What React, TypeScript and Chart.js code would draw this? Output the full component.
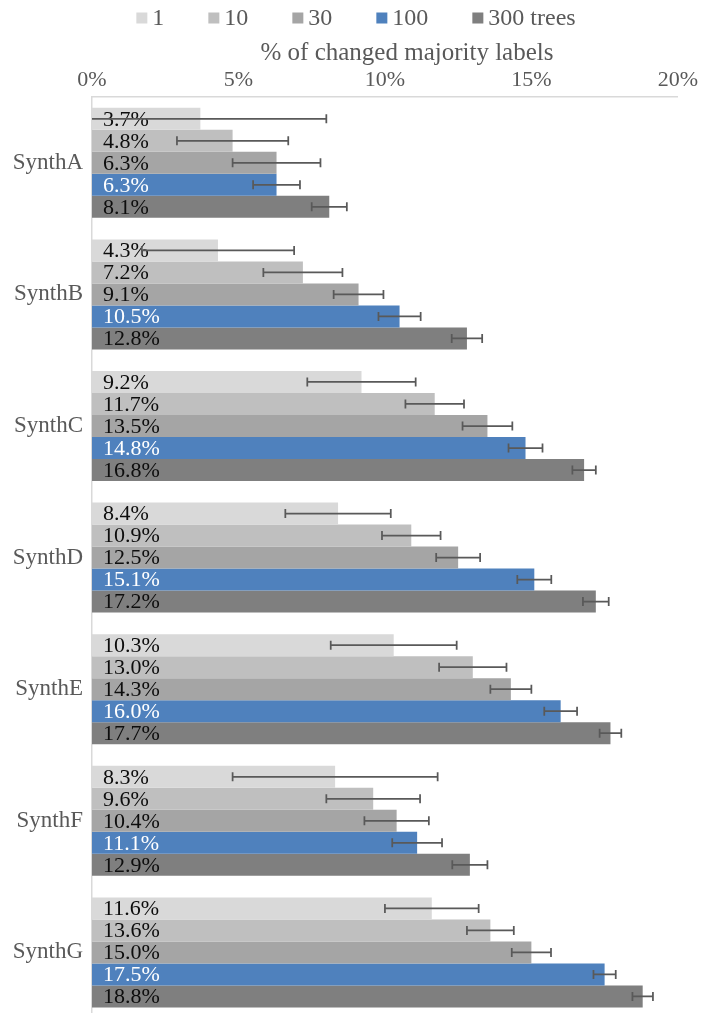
import React, { useEffect, useRef } from "react";
import { Chart, registerables } from "chart.js";

Chart.register(...registerables);

const categories = ["SynthA", "SynthB", "SynthC", "SynthD", "SynthE", "SynthF", "SynthG"];
const seriesLabels = ["1", "10", "30", "100", "300 trees"];
const seriesColors = ["#d9d9d9", "#bfbfbf", "#a5a5a5", "#4f81bd", "#7f7f7f"];

const trees1 = [3.7, 4.3, 9.2, 8.4, 10.3, 8.3, 11.6];
const trees10 = [4.8, 7.2, 11.7, 10.9, 13.0, 9.6, 13.6];
const trees30 = [6.3, 9.1, 13.5, 12.5, 14.3, 10.4, 15.0];
const trees100 = [6.3, 10.5, 14.8, 15.1, 16.0, 11.1, 17.5];
const trees300 = [8.1, 12.8, 16.8, 17.2, 17.7, 12.9, 18.8];

// error bar half-widths (percentage points)
const err1 = [4.3, 2.6, 1.85, 1.8, 2.15, 3.5, 1.6];
const err10 = [1.9, 1.35, 1.0, 1.0, 1.15, 1.6, 0.8];
const err30 = [1.5, 0.85, 0.85, 0.75, 0.7, 1.1, 0.67];
const err100 = [0.8, 0.72, 0.58, 0.58, 0.56, 0.85, 0.38];
const err300 = [0.6, 0.52, 0.4, 0.44, 0.37, 0.6, 0.35];

const xTicks = [0, 5, 10, 15, 20];
const axisTitle = "% of changed majority labels";

const seriesValues = [trees1, trees10, trees30, trees100, trees300];
const seriesErrors = [err1, err10, err30, err100, err300];

const FONT = "'Liberation Serif', 'Times New Roman', serif";
const TEXT_GRAY = "#595959";

const barExtras = {
  id: "barExtras",
  afterDatasetsDraw(chart: any) {
    const ctx = chart.ctx;
    const xs = chart.scales.x;
    const x0 = xs.getPixelForValue(0);
    chart.data.datasets.forEach((ds: any, di: number) => {
      const meta = chart.getDatasetMeta(di);
      meta.data.forEach((bar: any, i: number) => {
        const v = ds.data[i] as number;
        ctx.save();
        ctx.font = `22px ${FONT}`;
        ctx.fillStyle = di === 3 ? "#ffffff" : "#0d0d0d";
        ctx.textAlign = "left";
        ctx.textBaseline = "middle";
        ctx.fillText(v.toFixed(1) + "%", x0 + 11, bar.y + 1);
        ctx.restore();
      });
    });
    chart.data.datasets.forEach((ds: any, di: number) => {
      const meta = chart.getDatasetMeta(di);
      const errs = seriesErrors[di];
      meta.data.forEach((bar: any, i: number) => {
        const v = ds.data[i] as number;
        const e = errs[i];
        const lo = Math.max(0, v - e);
        const hi = v + e;
        const xl = xs.getPixelForValue(lo);
        const xh = xs.getPixelForValue(hi);
        const y = bar.y;
        ctx.save();
        ctx.strokeStyle = "#595959";
        ctx.lineWidth = 1.75;
        ctx.beginPath();
        ctx.moveTo(xl, y);
        ctx.lineTo(xh, y);
        if (v - e > 0) {
          ctx.moveTo(xl, y - 4.5);
          ctx.lineTo(xl, y + 4.5);
        }
        ctx.moveTo(xh, y - 4.5);
        ctx.lineTo(xh, y + 4.5);
        ctx.stroke();
        ctx.restore();
      });
    });
  },
};

const customLegend = {
  id: "customLegend",
  afterDraw(chart: any) {
    const ctx = chart.ctx;
    ctx.save();
    ctx.font = `24px ${FONT}`;
    const box = 11;
    const gapText = 5;
    const gapItem = 44;
    const widths = seriesLabels.map((l) => ctx.measureText(l).width);
    const total =
      widths.reduce((s, w) => s + box + gapText + w, 0) + gapItem * (seriesLabels.length - 1);
    let x = (chart.width - total) / 2 + 5;
    const cy = 18;
    seriesLabels.forEach((l, i) => {
      ctx.fillStyle = seriesColors[i];
      ctx.fillRect(x, cy - box / 2, box, box);
      ctx.fillStyle = TEXT_GRAY;
      ctx.textAlign = "left";
      ctx.textBaseline = "middle";
      ctx.fillText(l, x + box + gapText, cy + 1);
      x += box + gapText + widths[i] + gapItem;
    });
    // axis title, centred where the reference puts it
    ctx.font = `25px ${FONT}`;
    ctx.textAlign = "center";
    ctx.textBaseline = "middle";
    ctx.fillStyle = TEXT_GRAY;
    ctx.fillText(axisTitle, 407, 53);
    ctx.restore();
  },
};

export default function App() {
  const ref = useRef<HTMLCanvasElement | null>(null);

  useEffect(() => {
    if (!ref.current) return;
    const chart = new Chart(ref.current, {
      type: "bar",
      data: {
        labels: categories,
        datasets: seriesLabels.map((label, i) => ({
          label,
          data: seriesValues[i],
          backgroundColor: seriesColors[i],
          borderWidth: 0,
          categoryPercentage: 0.836,
          barPercentage: 1.0,
        })),
      },
      options: {
        indexAxis: "y",
        responsive: false,
        animation: false,
        devicePixelRatio: 1,
        layout: { padding: { top: 36, right: 2, bottom: 0, left: 0 } },
        plugins: {
          legend: { display: false },
          tooltip: { enabled: false },
        },
        scales: {
          x: {
            position: "top",
            min: 0,
            max: 20,
            afterBuildTicks: (scale: any) => {
              scale.ticks = xTicks.map((v) => ({ value: v }));
            },
            afterFit: (scale: any) => {
              scale.height = 61;
            },
            ticks: {
              callback: (v: any) => v + "%",
              font: { family: FONT, size: 22 },
              color: TEXT_GRAY,
              padding: 4,
              maxRotation: 0,
            },
            grid: { display: false, drawTicks: false },
            border: { display: true, color: "#d9d9d9", width: 1.5 },
            title: { display: false, text: axisTitle },
          },
          y: {
            afterFit: (scale: any) => {
              scale.width = 92;
            },
            ticks: {
              font: { family: FONT, size: 23 },
              color: TEXT_GRAY,
              padding: 9,
            },
            grid: { display: false, drawTicks: false },
            border: { display: true, color: "#d9d9d9", width: 1.5 },
          },
        },
      },
      plugins: [barExtras, customLegend],
    });
    return () => chart.destroy();
  }, []);

  return (
    <div
      style={{
        position: "fixed",
        left: 0,
        top: 0,
        width: 702,
        height: 1013,
        overflow: "hidden",
        background: "#ffffff",
      }}
    >
      <canvas ref={ref} width={702} height={1041} style={{ width: 702, height: 1041, display: "block" }} />
    </div>
  );
}
